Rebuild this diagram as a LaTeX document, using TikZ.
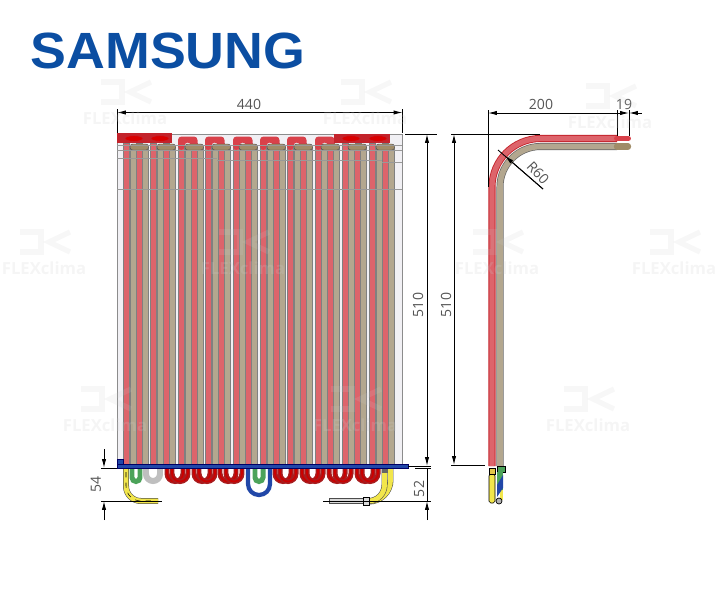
\documentclass[tikz,border=0pt]{standalone}
\usepackage{fontspec}
\setmainfont{Open Sans}
\newfontfamily\logofont{Liberation Sans}
\usepackage{tikz}
\usetikzlibrary{arrows.meta}
\definecolor{logoblue}{HTML}{0B4EA2}
\definecolor{redpipe}{HTML}{DD646B}
\definecolor{redtop}{HTML}{D9414A}
\definecolor{redhead}{HTML}{C3232B}
\definecolor{redbend}{HTML}{A81C1E}
\definecolor{brownpipe}{HTML}{B3A78F}
\definecolor{browncap}{HTML}{A08C68}
\definecolor{panelgrey}{HTML}{F1F0F4}
\definecolor{barblue}{HTML}{2147A8}
\definecolor{pipeyellow}{HTML}{F2E64B}
\definecolor{labelgrey}{HTML}{555555}
\definecolor{pipegreen}{HTML}{4CA35A}
\tikzset{
  x=0.02cm, y=-0.02cm,
  dimline/.style={black, line width=0.5pt, >={Latex[length=5pt,width=2.4pt]}},
  dimlabel/.style={text=labelgrey, font=\fontsize{8}{9}\selectfont, inner sep=0pt},
  wmark/.style={text=gray!40, opacity=0.2, font=\bfseries\fontsize{9.5}{10}\selectfont, inner sep=0pt},
  wglyph/.style={draw=gray!40, opacity=0.15, line width=3pt},
  panelline/.style={black!40, line width=0.25pt},
  legedge/.style={draw=black!50, line width=0.2pt},
}
\newcommand{\redtube}[1]{\fill[redpipe, legedge] (#1,143) rectangle (#1+6.5,465); \fill[redpipe, legedge] (#1+13,143) rectangle (#1+19.5,465);}
\newcommand{\redarch}[1]{\fill[redtop, rounded corners=2pt] (#1,150) -- (#1,136.5) -- (#1+19.5,136.5) -- (#1+19.5,150) -- (#1+13,150) -- (#1+13,142.5) -- (#1+6.5,142.5) -- (#1+6.5,150) -- cycle;}
\newcommand{\browntube}[1]{\fill[brownpipe, legedge] (#1,147) rectangle (#1+6.5,465); \fill[brownpipe, legedge] (#1+12,147) rectangle (#1+18.5,465); \fill[redpipe, legedge] (#1+6.5,147) rectangle (#1+12,465); \fill[browncap, draw=black!70, line width=0.25pt, rounded corners=1.5pt] (#1,144) rectangle (#1+18.5,150);}
\newcommand{\headeye}[1]{\fill[red!85!black, draw=redhead, line width=0.3pt] (#1,138.5) ellipse (9 and 2.8);}
\newcommand{\bendpipe}[4]{\draw[#4, line width=#3*0.569pt] (#1-#2,466) -- (#1-#2,484-#2-0.5*#3) arc (180:0:#2) -- (#1+#2,466);}
\newcommand{\redbendpipe}[1]{\bendpipe{#1}{8}{5}{redbend} \draw[red!80!black, line width=0.9pt] (#1-8,466) -- (#1-8,473.5) arc (180:0:8) -- (#1+8,466);}
\newcommand{\flexmark}[3]{\node[wmark] (#1) at (#2,#3) {FLEXclima}; \draw[wglyph] (#2-24,#3-36) -- (#2-3,#3-36) -- (#2-3,#3-16) -- (#2-24,#3-16); \draw[wglyph] (#2+26,#3-36) -- (#2+5,#3-26) -- (#2+26,#3-16);}
\begin{document}
\begin{tikzpicture}
    \useasboundingbox (0,0) rectangle (718,592);

    % logo
    \node[text=logoblue, font=\logofont\bfseries\fontsize{29}{30}\selectfont, inner sep=0pt] (logo) at (168,50.5) {\scalebox{1.055}[1]{SAMSUNG}};

    % front panel
    \fill[panelgrey, draw=black!45, line width=0.25pt] (117,134) rectangle (402,465);

    % red tubes
    \redtube{123}
    \redtube{150}
    \redtube{178}
    \redtube{205}
    \redtube{233}
    \redtube{260}
    \redtube{287}
    \redtube{315}
    \redtube{342}
    \redtube{369}

    % red arches and headers
    \redarch{178}
    \redarch{205}
    \redarch{233}
    \redarch{260}
    \redarch{287}
    \redarch{315}
    \fill[redhead] (117,133) rectangle (172,143);
    \fill[redhead] (334,134) rectangle (390,143);
    \headeye{134}
    \headeye{160}
    \headeye{351}
    \headeye{378}

    % brown tubes
    \browntube{130}
    \browntube{157}
    \browntube{185}
    \browntube{212}
    \browntube{239}
    \browntube{267}
    \browntube{294}
    \browntube{321}
    \browntube{348}
    \browntube{376}

    % panel lines
    \draw[panelline] (117,145) -- (402,145);
    \draw[panelline] (117,150) -- (402,150);
    \draw[panelline] (117,158) -- (217,158);
    \draw[panelline] (217,160) -- (382,160);
    \draw[panelline] (382,162) -- (402,162);
    \draw[panelline] (117,189) -- (402,189);

    % bends below the bar
    \bendpipe{136}{4}{5}{pipegreen}
    \bendpipe{153}{7}{6}{gray!50}
    \redbendpipe{175}
    \redbendpipe{180}
    \redbendpipe{202}
    \redbendpipe{207}
    \redbendpipe{228}
    \redbendpipe{234}
    \redbendpipe{283}
    \redbendpipe{288}
    \redbendpipe{310}
    \redbendpipe{315}
    \redbendpipe{337}
    \redbendpipe{343}
    \redbendpipe{365}
    \redbendpipe{370}
    \draw[barblue, line width=2.4pt] (248,466) -- (248,484) arc (180:0:11) -- (270,466);
    \bendpipe{259}{4}{5}{pipegreen}

    % yellow pipes
    \draw[black!70, line width=3.4pt] (126,469) -- (126,486) arc (180:90:15) -- (158,501);
    \draw[pipeyellow, line width=2.8pt] (126,469) -- (126,486) arc (180:90:15) -- (158,501);
    \draw[black, line width=0.3pt, dashed] (126,472) -- (126,486) arc (180:90:15) -- (156,501);
    \fill[gray!30, draw=black!70, line width=0.3pt] (329,498.5) rectangle (363,503.5);
    \draw[black!70, line width=0.3pt] (331,501) -- (361,501);
    \draw[black!70, line width=3.4pt] (390.5,469) -- (390.5,480) arc (0:90:21.5) -- (369,501.5);
    \draw[pipeyellow, line width=2.8pt] (390.5,469) -- (390.5,480) arc (0:90:21.5) -- (369,501.5);
    \draw[black!70, line width=3.4pt] (384.5,469) -- (384.5,485) arc (0:90:16) -- (369,501);
    \draw[pipeyellow, line width=2.8pt] (384.5,469) -- (384.5,485) arc (0:90:16) -- (369,501);
    \fill[gray!30, draw=black, line width=0.4pt] (363,497) rectangle (369,505);
    \fill[black!60] (382,468) rectangle (388,473);

    % blue bar
    \fill[barblue, draw=black!60!blue, line width=0.3pt] (117,459) rectangle (123,468);
    \fill[barblue, draw=black!60!blue, line width=0.3pt] (117,464) rectangle (408,468.5);

    % side view tubes
    \draw[black!60, line width=4pt] (500,466) -- (500,187) arc (180:270:40.5) -- (617,146.5);
    \draw[brownpipe, line width=3.2pt] (500,466) -- (500,187) arc (180:270:40.5) -- (617,146.5);
    \draw[browncap, line width=3.6pt, line cap=round] (617,146.5) -- (628,146.5);
    \draw[redhead, line width=4pt] (492,466) -- (492,187) arc (180:270:48.5) -- (617,138.5);
    \draw[redpipe, line width=3pt] (492,466) -- (492,187) arc (180:270:48.5) -- (617,138.5);
    \draw[redtop, line width=3.4pt, line cap=round] (617,138.5) -- (628,138.5);

    % side view stub
    \fill[pipegreen, draw=black, line width=0.5pt] (497,466) rectangle (505,472);
    \fill[pipegreen] (497,472) rectangle (503,490);
    \fill[pipeyellow] (500,490) rectangle (503,500);
    \fill[barblue] (497,485) -- (503,475) -- (503,488) -- (497,497) -- cycle;
    \fill[pipeyellow, draw=black, line width=0.3pt, rounded corners=1pt] (489,474) rectangle (495,503);
    \fill[pipeyellow!70!brown, draw=black, line width=0.4pt] (489,468) rectangle (495,474);
    \fill[gray!60, draw=black, line width=0.4pt] (499,501) circle (3);

    % dimension anchors
    \coordinate (wl) at (117,112.5);
    \coordinate (wr) at (402.5,112.5);
    \coordinate (hta) at (427,134);
    \coordinate (htb) at (427,466);
    \coordinate (dra) at (427,468);
    \coordinate (drb) at (427,501);
    \coordinate (drc) at (427,520);
    \coordinate (dla) at (104,468);
    \coordinate (dlb) at (104,501);
    \coordinate (dlc) at (104,449);
    \coordinate (dld) at (104,520);
    \coordinate (sta) at (454,134);
    \coordinate (stb) at (454,465);
    \coordinate (dpa) at (488,113);
    \coordinate (dpb) at (617,113);
    \coordinate (dpc) at (629,113);
    \coordinate (dpd) at (642,113);
    \coordinate (rta) at (498,150);
    \coordinate (rtb) at (505,156);
    \coordinate (rtc) at (543,189);

    % dimension lines
    \draw[dimline] (117,109) -- (117,133);
    \draw[dimline] (402.5,109) -- (402.5,133);
    \draw[dimline,<->] (wl) -- (wr);
    \draw[dimline] (405,134) -- (437,134);
    \draw[dimline] (408,466) -- (431,466);
    \draw[dimline] (415,468) -- (431,468);
    \draw[dimline,<->] (hta) -- (htb);
    \draw[dimline,->] (drc) -- (drb);
    \draw[dimline] (dra) -- (drb);
    \draw[dimline] (323,501) -- (431,501);
    \draw[dimline,->] (dlc) -- (dla);
    \draw[dimline,->] (dld) -- (dlb);
    \draw[dimline] (101,468) -- (117,468);
    \draw[dimline] (101,501) -- (162,501);
    \draw[dimline] (451,134) -- (540,134);
    \draw[dimline] (451,465) -- (485,465);
    \draw[dimline,<->] (sta) -- (stb);
    \draw[dimline] (488,110) -- (488,187);
    \draw[dimline] (617,110) -- (617,136);
    \draw[dimline] (629,110) -- (629,136);
    \draw[dimline,<-] (dpa) -- (dpb);
    \draw[dimline,<-] (dpc) -- (dpd);
    \draw[dimline,->] (dpb) -- (dpc);
    \draw[dimline] (rta) -- (rtc);
    \draw[dimline,->] (rtc) -- (rtb);

    % dimension labels
    \node[dimlabel] (lblwidth) at (249,104) {440};
    \node[dimlabel, rotate=90] (lblheight) at (418,305) {510};
    \node[dimlabel, rotate=90] (lblright) at (419,489) {52};
    \node[dimlabel, rotate=90] (lblleft) at (96,484) {54};
    \node[dimlabel, rotate=90] (lblside) at (446,305) {510};
    \node[dimlabel] (lbldepth) at (541,104) {200};
    \node[dimlabel] (lblstub) at (624,104) {19};
    \node[dimlabel, rotate=-47] (lblrad) at (538,173) {R60};

    % watermarks
    \flexmark{wma}{125}{118}
    \flexmark{wmb}{365}{118}
    \flexmark{wmc}{610}{122}
    \flexmark{wmd}{44}{268}
    \flexmark{wme}{243}{268}
    \flexmark{wmf}{497}{268}
    \flexmark{wmg}{674}{268}
    \flexmark{wmh}{105}{425}
    \flexmark{wmi}{355}{425}
    \flexmark{wmj}{588}{425}
\end{tikzpicture}
\end{document}
